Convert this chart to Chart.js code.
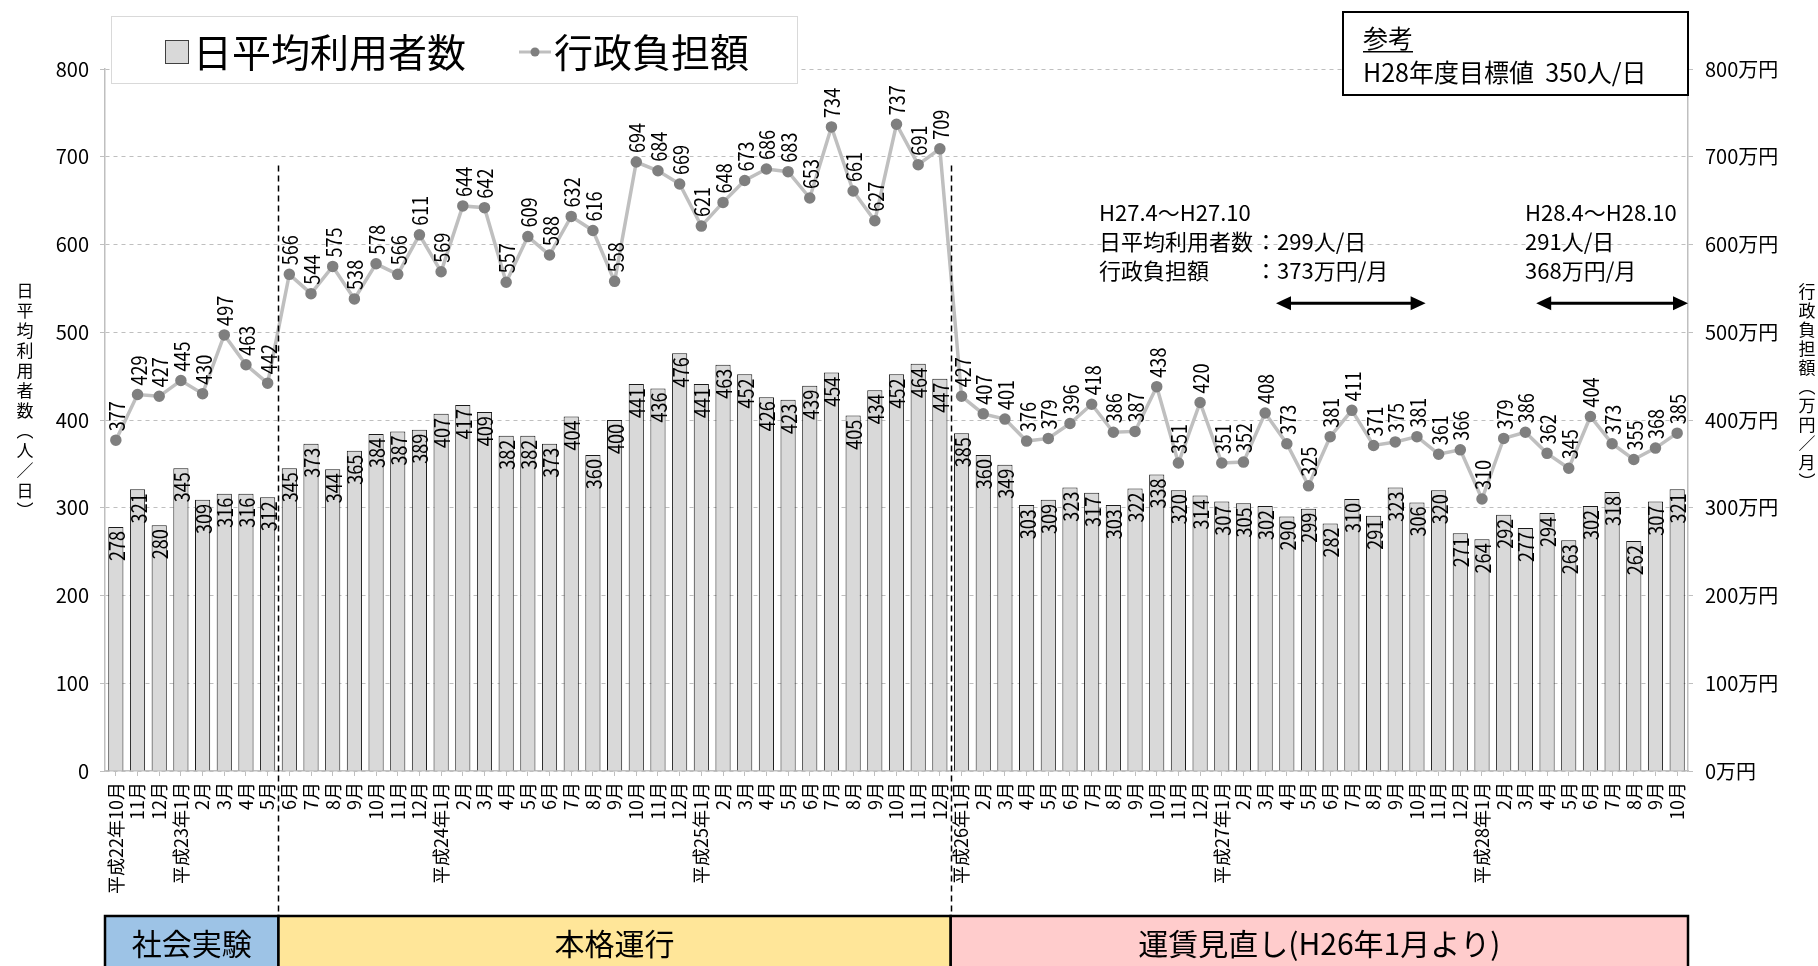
<!DOCTYPE html>
<html lang="ja">
<head>
<meta charset="utf-8">
<title>日平均利用者数と行政負担額</title>
<script src="https://cdn.jsdelivr.net/npm/chart.js@4.4.1/dist/chart.umd.min.js"></script>
<style>
  html, body { margin: 0; padding: 0; background: #fff; }
  #wrap { width: 1818px; height: 966px; }
</style>
</head>
<body>
<div id="wrap"><canvas id="usageChart" width="1818" height="966"></canvas></div>
<script>
// Month labels (H22.10 - H28.10)
const monthLabels = [
  "平成22年10月", "11月", "12月",
  "平成23年1月", "2月", "3月", "4月", "5月", "6月", "7月", "8月", "9月", "10月", "11月", "12月",
  "平成24年1月", "2月", "3月", "4月", "5月", "6月", "7月", "8月", "9月", "10月", "11月", "12月",
  "平成25年1月", "2月", "3月", "4月", "5月", "6月", "7月", "8月", "9月", "10月", "11月", "12月",
  "平成26年1月", "2月", "3月", "4月", "5月", "6月", "7月", "8月", "9月", "10月", "11月", "12月",
  "平成27年1月", "2月", "3月", "4月", "5月", "6月", "7月", "8月", "9月", "10月", "11月", "12月",
  "平成28年1月", "2月", "3月", "4月", "5月", "6月", "7月", "8月", "9月", "10月"
];

// 日平均利用者数 (人/日)
const dailyUsers = [
  278, 321, 280,
  345, 309, 316, 316, 312, 345, 373, 344, 365, 384, 387, 389,
  407, 417, 409, 382, 382, 373, 404, 360, 400, 441, 436, 476,
  441, 463, 452, 426, 423, 439, 454, 405, 434, 452, 464, 447,
  385, 360, 349, 303, 309, 323, 317, 303, 322, 338, 320, 314,
  307, 305, 302, 290, 299, 282, 310, 291, 323, 306, 320, 271,
  264, 292, 277, 294, 263, 302, 318, 262, 307, 321
];

// 行政負担額 (万円/月)
const subsidy = [
  377, 429, 427,
  445, 430, 497, 463, 442, 566, 544, 575, 538, 578, 566, 611,
  569, 644, 642, 557, 609, 588, 632, 616, 558, 694, 684, 669,
  621, 648, 673, 686, 683, 653, 734, 661, 627, 737, 691, 709,
  427, 407, 401, 376, 379, 396, 418, 386, 387, 438, 351, 420,
  351, 352, 408, 373, 325, 381, 411, 371, 375, 381, 361, 366,
  310, 379, 386, 362, 345, 404, 373, 355, 368, 385
];

// Phases along the bottom (category index ranges)
const phaseNames = ["社会実験", "本格運行", "運賃見直し(H26年1月より)"];
const phaseFirst = [0, 8, 39];
const phaseLast = [7, 38, 72];
const phaseColors = ["#9dc3e6", "#ffe699", "#ffcccc"];

// Period summaries
const periodTitles = ["H27.4～H27.10", "H28.4～H28.10"];
const periodUsers = ["299人/日", "291人/日"];
const periodCost = ["373万円/月", "368万円/月"];
const periodFrom = [53.5, 65.5];
const periodTo = [60.4, 72.5];

const NUM_FONT = '"Liberation Sans Narrow", "Noto Sans CJK JP", sans-serif';
const JP_FONT = '"Noto Sans CJK JP", sans-serif';

function verticalText(ctx, text, x, y, pitch) {
  ctx.textAlign = "center";
  ctx.textBaseline = "middle";
  Array.from(text).forEach((ch, i) => {
    ctx.fillText(ch, x, y + i * pitch);
  });
}

function arrow(ctx, x1, x2, y) {
  const hl = 15, hh = 7;
  ctx.strokeStyle = "#000";
  ctx.fillStyle = "#000";
  ctx.lineWidth = 3;
  ctx.beginPath();
  ctx.moveTo(x1 + hl - 2, y);
  ctx.lineTo(x2 - hl + 2, y);
  ctx.stroke();
  ctx.beginPath();
  ctx.moveTo(x1, y);
  ctx.lineTo(x1 + hl, y - hh);
  ctx.lineTo(x1 + hl, y + hh);
  ctx.closePath();
  ctx.fill();
  ctx.beginPath();
  ctx.moveTo(x2, y);
  ctx.lineTo(x2 - hl, y - hh);
  ctx.lineTo(x2 - hl, y + hh);
  ctx.closePath();
  ctx.fill();
}

// rotated, slightly condensed value label
function valueLabel(ctx, text, x, y, align) {
  ctx.save();
  ctx.translate(x, y);
  ctx.rotate(-Math.PI / 2);
  ctx.scale(0.86, 1);
  ctx.textAlign = align;
  ctx.fillText(text, 0, 1);
  ctx.restore();
}

const decorPlugin = {
  id: "decor",
  afterDraw(chart) {
    const ctx = chart.ctx;
    const xs = chart.scales.x;
    const ys = chart.scales.y;
    const bandTop = chart.height - 50;

    // dashed phase separators
    ctx.save();
    ctx.strokeStyle = "#000";
    ctx.lineWidth = 1.5;
    ctx.setLineDash([6, 4]);
    [7.5, 38.5].forEach((v) => {
      const x = Math.round(xs.getPixelForValue(v)) + 0.5;
      ctx.beginPath();
      ctx.moveTo(x, ys.getPixelForValue(690));
      ctx.lineTo(x, bandTop);
      ctx.stroke();
    });
    ctx.restore();

    // data labels
    ctx.save();
    ctx.fillStyle = "#000";
    ctx.font = "21px " + NUM_FONT;
    ctx.textBaseline = "middle";
    chart.getDatasetMeta(0).data.forEach((bar, i) => {
      valueLabel(ctx, String(dailyUsers[i]), bar.x, bar.y + 4, "right");
    });
    chart.getDatasetMeta(1).data.forEach((pt, i) => {
      valueLabel(ctx, String(subsidy[i]), pt.x, pt.y - 9, "left");
    });
    ctx.restore();

    // legend
    ctx.save();
    ctx.fillStyle = "#fff";
    ctx.fillRect(111, 16, 686, 67);
    ctx.strokeStyle = "#d9d9d9";
    ctx.lineWidth = 1;
    ctx.strokeRect(111.5, 16.5, 686, 67);
    ctx.fillStyle = "#d9d9d9";
    ctx.fillRect(165, 40, 23, 23);
    ctx.strokeStyle = "#404040";
    ctx.strokeRect(165.5, 40.5, 23, 23);
    ctx.strokeStyle = "#bfbfbf";
    ctx.lineWidth = 3;
    ctx.beginPath();
    ctx.moveTo(519, 52);
    ctx.lineTo(551, 52);
    ctx.stroke();
    ctx.fillStyle = "#7f7f7f";
    ctx.beginPath();
    ctx.arc(535, 52, 4.5, 0, Math.PI * 2);
    ctx.fill();
    ctx.fillStyle = "#000";
    ctx.font = "39px " + JP_FONT;
    ctx.textAlign = "left";
    ctx.textBaseline = "middle";
    ctx.fillText("日平均利用者数", 193, 52);
    ctx.fillText("行政負担額", 554, 52);
    ctx.restore();

    // reference box
    ctx.save();
    ctx.fillStyle = "#fff";
    ctx.fillRect(1343, 12, 345, 83);
    ctx.strokeStyle = "#000";
    ctx.lineWidth = 2;
    ctx.strokeRect(1343, 12, 345, 83);
    ctx.fillStyle = "#000";
    ctx.font = "25px " + NUM_FONT;
    ctx.textAlign = "left";
    ctx.textBaseline = "middle";
    ctx.fillText("参考", 1363, 38);
    const w = ctx.measureText("参考").width;
    ctx.fillRect(1363, 51, w, 1.5);
    ctx.fillText("H28年度目標値  350人/日", 1363, 72);
    ctx.restore();

    // period notes with arrows
    ctx.save();
    ctx.fillStyle = "#000";
    ctx.font = "22px " + NUM_FONT;
    ctx.textAlign = "left";
    ctx.textBaseline = "middle";
    ctx.fillText(periodTitles[0], 1099, 213);
    ctx.fillText("日平均利用者数", 1099, 242);
    ctx.fillText("：" + periodUsers[0], 1255, 242);
    ctx.fillText("行政負担額", 1099, 271);
    ctx.fillText("：" + periodCost[0], 1255, 271);
    ctx.fillText(periodTitles[1], 1525, 213);
    ctx.fillText(periodUsers[1], 1525, 242);
    ctx.fillText(periodCost[1], 1525, 271);
    const ay = ys.getPixelForValue(533);
    for (let k = 0; k < periodFrom.length; k++) {
      arrow(ctx, xs.getPixelForValue(periodFrom[k]), xs.getPixelForValue(periodTo[k]), ay);
    }
    ctx.restore();

    // axis titles (vertical)
    ctx.save();
    ctx.fillStyle = "#000";
    ctx.font = "17px " + JP_FONT;
    verticalText(ctx, "日平均利用者数︵人／日︶", 25, 291, 20);
    verticalText(ctx, "行政負担額︵万円／月︶", 1807, 292, 19);
    ctx.restore();

    // phase bands
    ctx.save();
    ctx.lineWidth = 2.5;
    ctx.strokeStyle = "#000";
    ctx.font = "30px " + NUM_FONT;
    ctx.textAlign = "center";
    ctx.textBaseline = "middle";
    for (let k = 0; k < phaseNames.length; k++) {
      const x1 = xs.getPixelForValue(phaseFirst[k] - 0.5);
      const x2 = xs.getPixelForValue(phaseLast[k] + 0.5);
      ctx.fillStyle = phaseColors[k];
      ctx.fillRect(x1, bandTop, x2 - x1, chart.height - bandTop + 5);
      ctx.strokeRect(x1, bandTop, x2 - x1, chart.height - bandTop + 5);
      ctx.fillStyle = "#000";
      ctx.fillText(phaseNames[k], (x1 + x2) / 2, bandTop + 28);
    }
    ctx.restore();
  }
};

const ctx = document.getElementById("usageChart").getContext("2d");
new Chart(ctx, {
  type: "bar",
  data: {
    labels: monthLabels,
    datasets: [
      {
        label: "日平均利用者数",
        data: dailyUsers,
        backgroundColor: "#d9d9d9",
        borderColor: "#1a1a1a",
        borderWidth: 1,
        barPercentage: 0.7,
        categoryPercentage: 1,
        yAxisID: "y",
        order: 2
      },
      {
        type: "line",
        label: "行政負担額",
        data: subsidy,
        borderColor: "#bfbfbf",
        borderWidth: 3.5,
        pointBackgroundColor: "#7f7f7f",
        pointBorderColor: "#7f7f7f",
        pointRadius: 4,
        tension: 0,
        yAxisID: "y2",
        order: 1
      }
    ]
  },
  options: {
    responsive: false,
    devicePixelRatio: 1,
    animation: false,
    layout: { padding: { top: 69, left: 0, right: 0, bottom: 0 } },
    plugins: {
      legend: { display: false },
      tooltip: { enabled: false }
    },
    scales: {
      x: {
        offset: true,
        grid: {
          offset: false,
          drawOnChartArea: false,
          drawTicks: true,
          tickLength: 5,
          color: "#bfbfbf"
        },
        border: { color: "#bfbfbf", width: 1.5 },
        ticks: {
          autoSkip: false,
          minRotation: 90,
          maxRotation: 90,
          padding: 6,
          color: "#000",
          font: { family: JP_FONT, size: 18 }
        },
        afterFit(scale) { scale.height = 195; }
      },
      y: {
        position: "left",
        min: 0,
        max: 800,
        ticks: {
          stepSize: 100,
          padding: 11,
          color: "#000",
          font: { family: NUM_FONT, size: 20 }
        },
        grid: { color: "#bfbfbf", tickLength: 5 },
        border: { color: "#bfbfbf", width: 1.5, dash: [4, 4] },
        afterFit(scale) { scale.width = 105; }
      },
      y2: {
        position: "right",
        min: 0,
        max: 800,
        ticks: {
          stepSize: 100,
          padding: 12,
          color: "#000",
          font: { family: NUM_FONT, size: 20 },
          callback: (v) => v + "万円"
        },
        grid: { drawOnChartArea: false, color: "#bfbfbf", tickLength: 5 },
        border: { color: "#bfbfbf", width: 1.5 },
        afterFit(scale) { scale.width = 130; }
      }
    }
  },
  plugins: [decorPlugin]
});
</script>
</body>
</html>
